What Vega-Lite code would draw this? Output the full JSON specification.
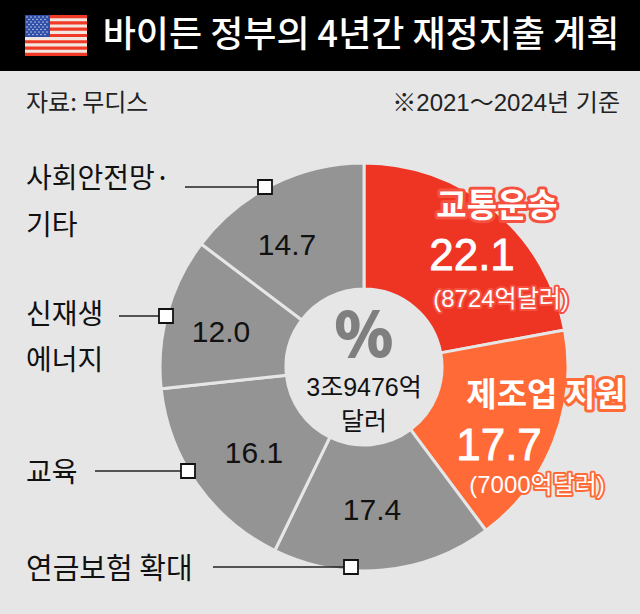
{
"$schema":"https://vega.github.io/schema/vega-lite/v6.json",
"width":640,"height":614,"padding":0,
"autosize":{"type":"fit","contains":"padding"},
"background":"#e6e6e6",
"config":{"view":{"stroke":null},"text":{"font":"Noto Sans CJK KR"}},
"datasets":{
"slices":[
{"order":1,"category":"교통운송","share":22.1,"amount":"(8724억달러)"},
{"order":2,"category":"제조업 지원","share":17.7,"amount":"(7000억달러)"},
{"order":3,"category":"연금보험 확대","share":17.4},
{"order":4,"category":"교육","share":16.1},
{"order":5,"category":"신재생\n에너지","share":12.0},
{"order":6,"category":"사회안전망·\n기타","share":14.7}],
"notes":[
{"role":"title","text":"바이든 정부의 4년간 재정지출 계획"},
{"role":"source","text":"자료: 무디스"},
{"role":"basis","text":"※2021～2024년 기준"},
{"role":"sign","text":"%"},
{"role":"total","text":"3조9476억\n달러"}],
"flag":[
{"part":"red","x0":0,"x1":62,"y0":0,"y1":41},
{"part":"white","x0":0,"x1":62,"y0":3.15,"y1":6.3},
{"part":"white","x0":0,"x1":62,"y0":9.45,"y1":12.6},
{"part":"white","x0":0,"x1":62,"y0":15.75,"y1":18.9},
{"part":"white","x0":0,"x1":62,"y0":22.05,"y1":25.2},
{"part":"white","x0":0,"x1":62,"y0":28.35,"y1":31.5},
{"part":"white","x0":0,"x1":62,"y0":34.65,"y1":37.8},
{"part":"blue","x0":0,"x1":25,"y0":0,"y1":22}],
"stars":[
{"c":2,"r":2},{"c":6,"r":2},{"c":10,"r":2},{"c":14,"r":2},{"c":18,"r":2},{"c":22,"r":2},
{"c":4,"r":4.5},{"c":8,"r":4.5},{"c":12,"r":4.5},{"c":16,"r":4.5},{"c":20,"r":4.5},
{"c":2,"r":7},{"c":6,"r":7},{"c":10,"r":7},{"c":14,"r":7},{"c":18,"r":7},{"c":22,"r":7},
{"c":4,"r":9.5},{"c":8,"r":9.5},{"c":12,"r":9.5},{"c":16,"r":9.5},{"c":20,"r":9.5},
{"c":2,"r":12},{"c":6,"r":12},{"c":10,"r":12},{"c":14,"r":12},{"c":18,"r":12},{"c":22,"r":12},
{"c":4,"r":14.5},{"c":8,"r":14.5},{"c":12,"r":14.5},{"c":16,"r":14.5},{"c":20,"r":14.5},
{"c":2,"r":17},{"c":6,"r":17},{"c":10,"r":17},{"c":14,"r":17},{"c":18,"r":17},{"c":22,"r":17},
{"c":4,"r":19.5},{"c":8,"r":19.5},{"c":12,"r":19.5},{"c":16,"r":19.5},{"c":20,"r":19.5}]
},
"layer":[
{"data":{"values":[{"part":"header"}]},"mark":{"type":"rect","x":0,"x2":640,"y":0,"y2":71,"fill":"#000000"},"encoding":{}},
{"data":{"name":"flag"},"transform":[{"filter":"datum.part=='red'"}],"mark":{"type":"rect","fill":"#f03a26"},"encoding":{"x":{"field":"x0","type":"quantitative","scale":{"domain":[0,62],"range":[25,87]},"axis":null},"x2":{"field":"x1"},"y":{"field":"y0","type":"quantitative","scale":{"domain":[0,41],"range":[15,56]},"axis":null},"y2":{"field":"y1"}}},
{"data":{"name":"flag"},"transform":[{"filter":"datum.part=='white'"}],"mark":{"type":"rect","fill":"#f2e6e0"},"encoding":{"x":{"field":"x0","type":"quantitative","scale":{"domain":[0,62],"range":[25,87]},"axis":null},"x2":{"field":"x1"},"y":{"field":"y0","type":"quantitative","scale":{"domain":[0,41],"range":[15,56]},"axis":null},"y2":{"field":"y1"}}},
{"data":{"name":"flag"},"transform":[{"filter":"datum.part=='blue'"}],"mark":{"type":"rect","fill":"#2f4fa8"},"encoding":{"x":{"field":"x0","type":"quantitative","scale":{"domain":[0,62],"range":[25,87]},"axis":null},"x2":{"field":"x1"},"y":{"field":"y0","type":"quantitative","scale":{"domain":[0,41],"range":[15,56]},"axis":null},"y2":{"field":"y1"}}},
{"data":{"name":"stars"},"mark":{"type":"point","filled":true,"fill":"#dfe6f5","opacity":0.9,"size":2.5},"encoding":{"x":{"field":"c","type":"quantitative","scale":{"domain":[0,62],"range":[25,87]},"axis":null},"y":{"field":"r","type":"quantitative","scale":{"domain":[0,41],"range":[15,56]},"axis":null}}},
{"data":{"name":"notes"},"transform":[{"filter":"datum.role=='title'"}],"mark":{"type":"text","x":361,"y":36,"align":"center","baseline":"middle","fontSize":36,"fontWeight":500,"fill":"#ffffff"},"encoding":{"text":{"field":"text"}}},
{"data":{"name":"notes"},"transform":[{"filter":"datum.role=='source'"}],"mark":{"type":"text","x":26,"y":104,"align":"left","baseline":"middle","fontSize":24,"fill":"#222222"},"encoding":{"text":{"field":"text"}}},
{"data":{"name":"notes"},"transform":[{"filter":"datum.role=='basis'"}],"mark":{"type":"text","x":620,"y":104,"align":"right","baseline":"middle","fontSize":24,"font":"Liberation Sans, Noto Sans CJK KR","fill":"#222222"},"encoding":{"text":{"field":"text"}}},
{"data":{"name":"slices"},"mark":{"type":"arc","x":364,"y":367,"innerRadius":78,"outerRadius":204,"stroke":"#e6e6e6","strokeWidth":3},"encoding":{"theta":{"field":"share","type":"quantitative","stack":true,"scale":{"domain":[0,100]}},"order":{"field":"order","type":"quantitative"},"color":{"field":"order","type":"ordinal","legend":null,"scale":{"domain":[1,2,3,4,5,6],"range":["#ee3524","#ff6a36","#949494","#949494","#949494","#949494"]}}}},
{"data":{"name":"notes"},"transform":[{"filter":"datum.role=='sign'"}],"mark":{"type":"text","x":364,"y":338,"align":"center","baseline":"middle","fontSize":60,"fontWeight":"bold","fill":"#7f7f7f","stroke":"#7f7f7f","strokeWidth":2},"encoding":{"text":{"field":"text"}}},
{"data":{"name":"notes"},"transform":[{"filter":"datum.role=='total'"}],"mark":{"type":"text","x":364,"y":388,"align":"center","baseline":"middle","fontSize":25,"lineBreak":"\n","lineHeight":34,"font":"Liberation Sans, Noto Sans CJK KR","fill":"#111111"},"encoding":{"text":{"field":"text"}}},

{"data":{"name":"slices"},"transform":[{"filter":"datum.order==1"}],"mark":{"type":"text","x":497,"y":207,"align":"center","baseline":"middle","fontSize":33,"fontWeight":"bold","stroke":"#f6503f","strokeWidth":6,"strokeJoin":"round"},"encoding":{"text":{"field":"category"}}},
{"data":{"name":"slices"},"transform":[{"filter":"datum.order==1"}],"mark":{"type":"text","x":497,"y":207,"align":"center","baseline":"middle","fontSize":33,"fontWeight":"bold","fill":"#ffffff"},"encoding":{"text":{"field":"category"}}},
{"data":{"name":"slices"},"transform":[{"filter":"datum.order==1"}],"mark":{"type":"text","x":472,"y":257,"align":"center","baseline":"middle","fontSize":44,"font":"Liberation Sans","fill":"#ffffff","stroke":"#ffffff","strokeWidth":0.8},"encoding":{"text":{"field":"share","type":"quantitative","format":".1f"}}},
{"data":{"name":"slices"},"transform":[{"filter":"datum.order==1"}],"mark":{"type":"text","x":501,"y":300,"align":"center","baseline":"middle","fontSize":24,"font":"Liberation Sans, Noto Sans CJK KR","stroke":"#f6503f","strokeWidth":4,"strokeJoin":"round"},"encoding":{"text":{"field":"amount"}}},
{"data":{"name":"slices"},"transform":[{"filter":"datum.order==1"}],"mark":{"type":"text","x":501,"y":300,"align":"center","baseline":"middle","fontSize":24,"font":"Liberation Sans, Noto Sans CJK KR","fill":"#ffffff"},"encoding":{"text":{"field":"amount"}}},

{"data":{"name":"slices"},"transform":[{"filter":"datum.order==2"}],"mark":{"type":"text","x":546,"y":396,"align":"center","baseline":"middle","fontSize":33,"fontWeight":"bold","stroke":"#ff6a36","strokeWidth":6,"strokeJoin":"round"},"encoding":{"text":{"field":"category"}}},
{"data":{"name":"slices"},"transform":[{"filter":"datum.order==2"}],"mark":{"type":"text","x":546,"y":396,"align":"center","baseline":"middle","fontSize":33,"fontWeight":"bold","fill":"#ffffff"},"encoding":{"text":{"field":"category"}}},
{"data":{"name":"slices"},"transform":[{"filter":"datum.order==2"}],"mark":{"type":"text","x":499,"y":447,"align":"center","baseline":"middle","fontSize":44,"font":"Liberation Sans","fill":"#ffffff","stroke":"#ffffff","strokeWidth":0.8},"encoding":{"text":{"field":"share","type":"quantitative","format":".1f"}}},
{"data":{"name":"slices"},"transform":[{"filter":"datum.order==2"}],"mark":{"type":"text","x":537,"y":486,"align":"center","baseline":"middle","fontSize":24,"font":"Liberation Sans, Noto Sans CJK KR","stroke":"#ff6a36","strokeWidth":4,"strokeJoin":"round"},"encoding":{"text":{"field":"amount"}}},
{"data":{"name":"slices"},"transform":[{"filter":"datum.order==2"}],"mark":{"type":"text","x":537,"y":486,"align":"center","baseline":"middle","fontSize":24,"font":"Liberation Sans, Noto Sans CJK KR","fill":"#ffffff"},"encoding":{"text":{"field":"amount"}}},

{"data":{"name":"slices"},"transform":[{"filter":"datum.order==3"}],"mark":{"type":"text","x":372,"y":511,"align":"center","baseline":"middle","fontSize":30,"font":"Liberation Sans","fill":"#111111"},"encoding":{"text":{"field":"share","type":"quantitative","format":".1f"}}},
{"data":{"name":"slices"},"transform":[{"filter":"datum.order==4"}],"mark":{"type":"text","x":254,"y":454,"align":"center","baseline":"middle","fontSize":30,"font":"Liberation Sans","fill":"#111111"},"encoding":{"text":{"field":"share","type":"quantitative","format":".1f"}}},
{"data":{"name":"slices"},"transform":[{"filter":"datum.order==5"}],"mark":{"type":"text","x":221,"y":333,"align":"center","baseline":"middle","fontSize":30,"font":"Liberation Sans","fill":"#111111"},"encoding":{"text":{"field":"share","type":"quantitative","format":".1f"}}},
{"data":{"name":"slices"},"transform":[{"filter":"datum.order==6"}],"mark":{"type":"text","x":287,"y":246,"align":"center","baseline":"middle","fontSize":30,"font":"Liberation Sans","fill":"#111111"},"encoding":{"text":{"field":"share","type":"quantitative","format":".1f"}}},

{"data":{"name":"slices"},"transform":[{"filter":"datum.order==6"}],"mark":{"type":"rule","stroke":"#222222","strokeWidth":1.5},"encoding":{"x":{"value":185},"x2":{"value":265},"y":{"value":187}}},
{"data":{"name":"slices"},"transform":[{"filter":"datum.order==5"}],"mark":{"type":"rule","stroke":"#222222","strokeWidth":1.5},"encoding":{"x":{"value":119},"x2":{"value":166},"y":{"value":316}}},
{"data":{"name":"slices"},"transform":[{"filter":"datum.order==4"}],"mark":{"type":"rule","stroke":"#222222","strokeWidth":1.5},"encoding":{"x":{"value":95},"x2":{"value":188},"y":{"value":471}}},
{"data":{"name":"slices"},"transform":[{"filter":"datum.order==3"}],"mark":{"type":"rule","stroke":"#222222","strokeWidth":1.5},"encoding":{"x":{"value":213},"x2":{"value":351},"y":{"value":567}}},

{"data":{"name":"slices"},"transform":[{"filter":"datum.order==6"}],"mark":{"type":"point","shape":"square","filled":true,"x":265,"y":187,"size":196,"fill":"#ffffff","stroke":"#111111","strokeWidth":1.8,"opacity":1},"encoding":{}},
{"data":{"name":"slices"},"transform":[{"filter":"datum.order==5"}],"mark":{"type":"point","shape":"square","filled":true,"x":166,"y":316,"size":196,"fill":"#ffffff","stroke":"#111111","strokeWidth":1.8,"opacity":1},"encoding":{}},
{"data":{"name":"slices"},"transform":[{"filter":"datum.order==4"}],"mark":{"type":"point","shape":"square","filled":true,"x":188,"y":471,"size":196,"fill":"#ffffff","stroke":"#111111","strokeWidth":1.8,"opacity":1},"encoding":{}},
{"data":{"name":"slices"},"transform":[{"filter":"datum.order==3"}],"mark":{"type":"point","shape":"square","filled":true,"x":351,"y":567,"size":196,"fill":"#ffffff","stroke":"#111111","strokeWidth":1.8,"opacity":1},"encoding":{}},

{"data":{"name":"slices"},"transform":[{"filter":"datum.order==6"}],"mark":{"type":"text","x":26,"y":180,"align":"left","baseline":"middle","fontSize":28,"lineBreak":"\n","lineHeight":47,"fill":"#111111"},"encoding":{"text":{"field":"category"}}},
{"data":{"name":"slices"},"transform":[{"filter":"datum.order==5"}],"mark":{"type":"text","x":26,"y":316,"align":"left","baseline":"middle","fontSize":28,"lineBreak":"\n","lineHeight":46,"fill":"#111111"},"encoding":{"text":{"field":"category"}}},
{"data":{"name":"slices"},"transform":[{"filter":"datum.order==4"}],"mark":{"type":"text","x":26,"y":474,"align":"left","baseline":"middle","fontSize":28,"fill":"#111111"},"encoding":{"text":{"field":"category"}}},
{"data":{"name":"slices"},"transform":[{"filter":"datum.order==3"}],"mark":{"type":"text","x":26,"y":570,"align":"left","baseline":"middle","fontSize":29,"fill":"#111111"},"encoding":{"text":{"field":"category"}}}
]
}
